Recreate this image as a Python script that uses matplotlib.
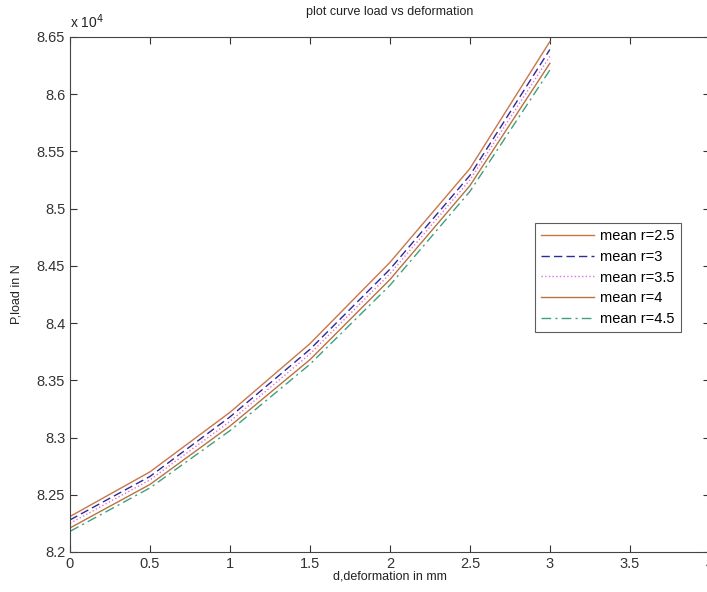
import numpy as np
import matplotlib.pyplot as plt

plt.rcParams['font.family'] = ['Liberation Sans', 'DejaVu Sans']

# deformation (mm) and load (N)
d = [0, 0.5, 1, 1.5, 2, 2.5, 3]
p_r25 = [82310, 82700, 83220, 83820, 84530, 85350, 86460]
p_r3 = [82280, 82660, 83180, 83770, 84470, 85290, 86390]
p_r35 = [82250, 82630, 83140, 83730, 84430, 85250, 86330]
p_r4 = [82210, 82590, 83100, 83680, 84380, 85200, 86270]
p_r45 = [82180, 82560, 83060, 83640, 84330, 85150, 86210]

labels = ['mean r=2.5', 'mean r=3', 'mean r=3.5', 'mean r=4', 'mean r=4.5']
series = [p_r25, p_r3, p_r35, p_r4, p_r45]
colors = ['#c8764a', '#2a2a9a', '#e070e0', '#b8743c', '#3f9f80']
styles = ['-', (0, (6, 3)), ':', '-', (0, (7, 3, 1.5, 3))]

fig = plt.figure(figsize=(7.07, 5.92), dpi=100)
ax = fig.add_axes([0.099, 0.0676, 0.905, 0.87])

for p, lab, c, ls in zip(series, labels, colors, styles):
    ax.plot(d, np.array(p) / 1e4, color=c, linestyle=ls, linewidth=1.0, label=lab)

ax.set_xlim(0, 4)
ax.set_ylim(8.2, 8.65)
ax.set_xticks(np.arange(0, 4.01, 0.5))
ax.set_xticklabels(['0', '0.5', '1', '1.5', '2', '2.5', '3', '3.5', '4'])
ax.set_yticks(np.arange(8.2, 8.651, 0.05))
ax.set_yticklabels(['8.2', '8.25', '8.3', '8.35', '8.4', '8.45', '8.5', '8.55', '8.6', '8.65'])

ax.tick_params(direction='in', top=True, right=True, labelsize=10.5, colors='#333333', length=5)
for s in ax.spines.values():
    s.set_color('#444444')

ax.text(0.0, 1.012, r'x 10$^4$', transform=ax.transAxes, fontsize=10, ha='left', va='bottom', color='#222222')
ax.set_title('plot curve load vs deformation', fontsize=9, pad=16, color='#222222')
ax.set_xlabel('d,deformation in mm', fontsize=9, labelpad=0, color='#222222')
ax.set_ylabel('P,load in N', fontsize=9, labelpad=10, color='#222222')

leg = ax.legend(loc='upper left', bbox_to_anchor=(0.7266, 0.639), fontsize=10.5, frameon=True,
                fancybox=False, edgecolor='#333333', handlelength=3.6, borderpad=0.45,
                labelspacing=0.45, handletextpad=0.4, borderaxespad=0)
leg.get_frame().set_linewidth(0.8)

fig.savefig('out.png', dpi=100)
